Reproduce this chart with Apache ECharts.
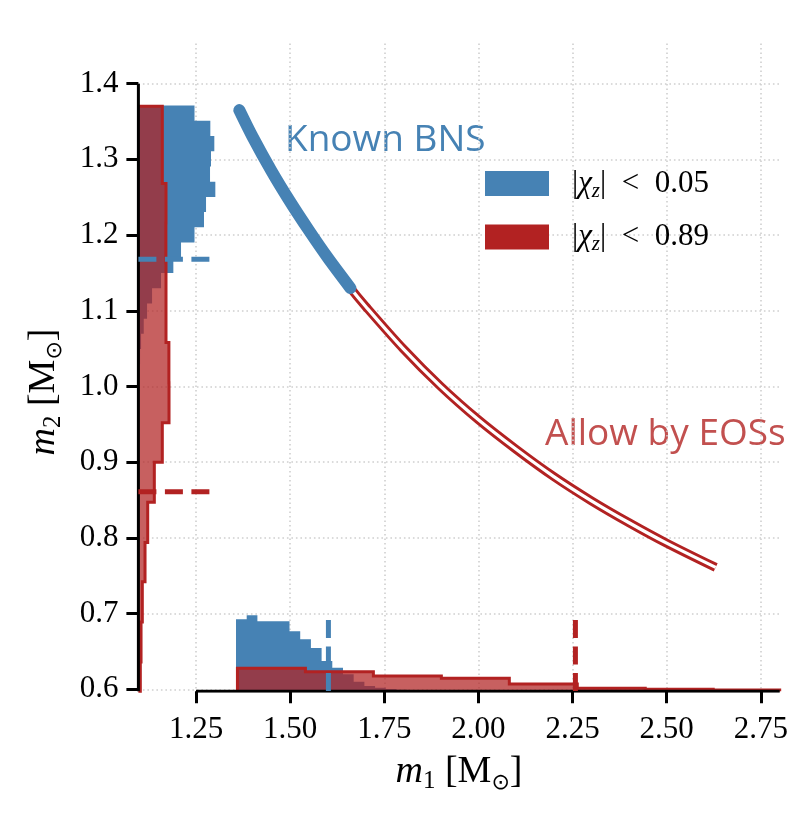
<!DOCTYPE html>
<html><head><meta charset="utf-8">
<script src="https://cdn.jsdelivr.net/npm/echarts@6/dist/echarts.min.js"></script>
<style>html,body{margin:0;padding:0;background:#fff}#c{width:797px;height:815px}</style>
</head><body><div id="c"></div>
<script>
// ---- tick positions ----
const xTicks = [1.25, 1.5, 1.75, 2.0, 2.25, 2.5, 2.75];
const yTicks = [0.6, 0.7, 0.8, 0.9, 1.0, 1.1, 1.2, 1.3, 1.4];
const X_MIN = 1.097, X_MAX = 2.8, Y_MIN = 0.5975, Y_MAX = 1.453;

// ---- marginal histogram of m2 (drawn along the left edge); extent read in m1 units ----
const blueM2Edges = [1.0092,1.0293,1.0494,1.0695,1.0896,1.1097,1.1298,1.1499,1.1700,1.1901,1.2102,1.2303,1.2504,1.2705,1.2906,1.3107,1.3308,1.3509,1.3710];
const blueM2Extent = [1.1000,1.1014,1.1041,1.1112,1.1200,1.1333,1.1571,1.1898,1.2102,1.2460,1.2712,1.2766,1.3013,1.2872,1.2898,1.2986,1.2880,1.2460];
const redM2Edges = [0.5975,0.636,0.689,0.742,0.794,0.847,0.900,0.952,1.005,1.058,1.110,1.163,1.216,1.268,1.321,1.370];
const redM2Extent = [1.1021,1.1040,1.1074,1.1146,1.1217,1.1393,1.1605,1.1783,1.1780,1.1703,1.1703,1.1700,1.1703,1.1605,1.1605];

// ---- marginal histogram of m1 (drawn along the bottom edge); heights read in m2 units ----
const blueM1Edges = [1.3562,1.3846,1.4130,1.4414,1.4699,1.4983,1.5267,1.5551,1.5835,1.6119,1.6403,1.6687,1.6971,1.7255,1.7539,1.7823,1.8107];
const blueM1Height = [0.6925,0.6978,0.6898,0.6898,0.6898,0.6766,0.6660,0.6546,0.6374,0.6285,0.6200,0.6100,0.6044,0.6021,0.6004,0.5995];
const redM1Edges = [1.3600,1.5405,1.7210,1.9015,2.0820,2.2625,2.4430,2.6235,2.8000];
const redM1Height = [0.6277,0.6233,0.6176,0.6145,0.6070,0.6013,0.6000,0.5991];

// ---- medians (dashed markers) ----
const blueM2Median = 1.168, redM2Median = 0.861;
const blueM1Median = 1.6016, redM1Median = 2.2575;
const hMarkEnd = 1.29, vMarkEnd = 0.6915;

// ---- constant chirp-mass track ----
const curveM1 = [1.365,1.40,1.45,1.50,1.55,1.60,1.66,1.70,1.80,1.90,2.00,2.10,2.20,2.30,2.40,2.50,2.63];
const curveM2 = [1.365,1.330,1.285,1.244,1.206,1.170,1.130,1.106,1.050,1.000,0.956,0.917,0.881,0.849,0.820,0.793,0.761];
const knownBnsCount = 7; // first points of the track belong to the known-BNS band

const BLUE = '#4682B4', RED = '#B22222', RED_FILL = 'rgba(178,34,34,0.72)';
const NAME_B = '|χz| < 0.05', NAME_R = '|χz| < 0.89';

function histSeries(name, edges, ext, orient, fill, stroke) {
  return {
    type: 'custom', name: name, coordinateSystem: 'cartesian2d', silent: true,
    data: [[X_MIN, Y_MIN]], itemStyle: { color: fill },
    renderItem: function (params, api) {
      const pts = [];
      const n = edges.length - 1;
      if (orient === 'left') {
        pts.push([X_MIN, edges[0]]);
        for (let i = 0; i < ext.length; i++) { pts.push([ext[i], edges[i]]); pts.push([ext[i], edges[i + 1]]); }
        pts.push([X_MIN, edges[n]]);
      } else {
        pts.push([edges[0], Y_MIN]);
        for (let i = 0; i < ext.length; i++) { pts.push([edges[i], ext[i]]); pts.push([edges[i + 1], ext[i]]); }
        pts.push([edges[n], Y_MIN]);
      }
      const px = pts.map(p => api.coord(p));
      const children = [{ type: 'polygon', shape: { points: px }, style: { fill: fill } }];
      if (stroke) children.push({ type: 'polyline', shape: { points: px }, style: { stroke: stroke, lineWidth: 3, fill: 'none' } });
      return { type: 'group', children: children };
    }
  };
}
function lineSeries(data, color, width, type, extra, cap) {
  return Object.assign({
    type: 'line', data: data, symbol: 'none', silent: true, animation: false,
    lineStyle: { color: color, width: width, type: type || 'solid', cap: cap || 'butt', join: 'round' }
  }, extra || {});
}

const track = curveM1.map((x, i) => [x, curveM2[i]]);
const knownTrack = track.slice(0, knownBnsCount);

const labelRich = {
  i: { fontFamily: 'Liberation Serif', fontStyle: 'italic', fontSize: 38, lineHeight: 44, fill: '#000' },
  s: { fontFamily: 'Liberation Serif', fontSize: 25, lineHeight: 22, verticalAlign: 'bottom', fill: '#000' },
  o: { fontFamily: 'DejaVu Sans', fontSize: 22, lineHeight: 22, verticalAlign: 'bottom', fill: '#000' },
  r: { fontFamily: 'Liberation Serif', fontSize: 38, lineHeight: 44, fill: '#000' }
};

const chart = echarts.init(document.getElementById('c'), null, { renderer: 'canvas' });
chart.setOption({
  animation: false,
  backgroundColor: '#fff',
  grid: { left: 138.4, right: 17.3, top: 43.5, bottom: 123.8 },
  xAxis: {
    type: 'value', min: X_MIN, max: X_MAX,
    axisLine: { show: false },
    axisTick: { show: true, customValues: xTicks, length: 12, lineStyle: { color: '#000', width: 3 } },
    axisLabel: { customValues: xTicks, formatter: v => v.toFixed(2), fontFamily: 'Liberation Serif', fontSize: 31, color: '#000', margin: 23 },
    splitLine: { show: true, lineStyle: { color: '#cfcfcf', width: 1.6, type: [1.6, 2.9] } }
  },
  yAxis: {
    type: 'value', min: Y_MIN, max: Y_MAX,
    axisLine: { show: false },
    axisTick: { show: true, customValues: yTicks, length: 12, lineStyle: { color: '#000', width: 3 } },
    axisLabel: { customValues: yTicks, formatter: v => v.toFixed(1), fontFamily: 'Liberation Serif', fontSize: 31, color: '#000', margin: 20 },
    splitLine: { show: true, lineStyle: { color: '#cfcfcf', width: 1.6, type: [1.6, 2.9] } }
  },
  legend: {
    orient: 'vertical', left: 485, top: 168, itemWidth: 64, itemHeight: 25, itemGap: 20, padding: 0,
    icon: 'rect', selectedMode: false,
    data: [
      { name: NAME_B, itemStyle: { color: BLUE } },
      { name: NAME_R, itemStyle: { color: RED } }
    ],
    formatter: function (name) {
      const v = name === NAME_B ? '0.05' : '0.89';
      return '{p||}{g|χ}{z|z}{a||\u2002<\u2002' + v + '}';
    },
    textStyle: {
      color: '#000', fontFamily: 'Liberation Serif', fontSize: 31,
      rich: {
        p: { fontFamily: 'Liberation Serif', fontSize: 31, lineHeight: 36, padding: [0, 0, 0, 18], color: '#000' },
        g: { fontFamily: 'Liberation Serif', fontStyle: 'italic', fontSize: 31, lineHeight: 36, color: '#000' },
        z: { fontFamily: 'Liberation Serif', fontStyle: 'italic', fontSize: 21, lineHeight: 18, verticalAlign: 'bottom', color: '#000' },
        a: { fontFamily: 'Liberation Serif', fontSize: 31, lineHeight: 36, color: '#000' }
      }
    }
  },
  graphic: [
    { type: 'text', x: 285, y: 140, silent: true,
      style: { text: 'Known BNS', fill: BLUE, font: '37px "Open Sans"', align: 'left', verticalAlign: 'middle' } },
    { type: 'text', x: 545, y: 434, silent: true,
      style: { text: 'Allow by EOSs', fill: '#C2504F', font: '37px "Open Sans"', align: 'left', verticalAlign: 'middle' } },
    { type: 'text', x: 459, y: 772, silent: true,
      style: { text: '{i|m}{s|1}{r| [M}{o|⊙}{r|]}', align: 'center', verticalAlign: 'middle', rich: labelRich } },
    { type: 'text', x: 44, y: 392, rotation: Math.PI / 2, silent: true,
      style: { text: '{i|m}{s|2}{r| [M}{o|⊙}{r|]}', align: 'center', verticalAlign: 'middle', rich: labelRich } }
  ],
  series: [
    // trimmed spines
    lineSeries([[X_MIN, Y_MIN], [X_MIN, yTicks[yTicks.length - 1]]], '#000', 3),
    lineSeries([[xTicks[0], Y_MIN], [X_MAX, Y_MIN]], '#000', 3),
    // histograms
    histSeries(NAME_B, blueM2Edges, blueM2Extent, 'left', BLUE, null),
    histSeries(NAME_B, blueM1Edges, blueM1Height, 'bottom', BLUE, null),
    histSeries(NAME_R, redM2Edges, redM2Extent, 'left', RED_FILL, RED),
    histSeries(NAME_R, redM1Edges, redM1Height, 'bottom', RED_FILL, RED),
    // median markers
    lineSeries([[X_MIN, blueM2Median], [hMarkEnd, blueM2Median]], BLUE, 5, [18, 8.5]),
    lineSeries([[X_MIN, redM2Median], [hMarkEnd, redM2Median]], RED, 5, [18, 8.5]),
    lineSeries([[blueM1Median, vMarkEnd], [blueM1Median, Y_MIN]], BLUE, 5, [18, 8.5]),
    lineSeries([[redM1Median, vMarkEnd], [redM1Median, Y_MIN]], RED, 5, [18, 8.5]),
    // chirp-mass tracks
    lineSeries(track, RED, 9, 'solid', { smooth: 0.3 }),
    lineSeries(track, '#fff', 3.2, 'solid', { smooth: 0.3 }),
    lineSeries(knownTrack, BLUE, 12, 'solid', { smooth: 0.3 }, 'round')
  ]
});
</script>
</body></html>
